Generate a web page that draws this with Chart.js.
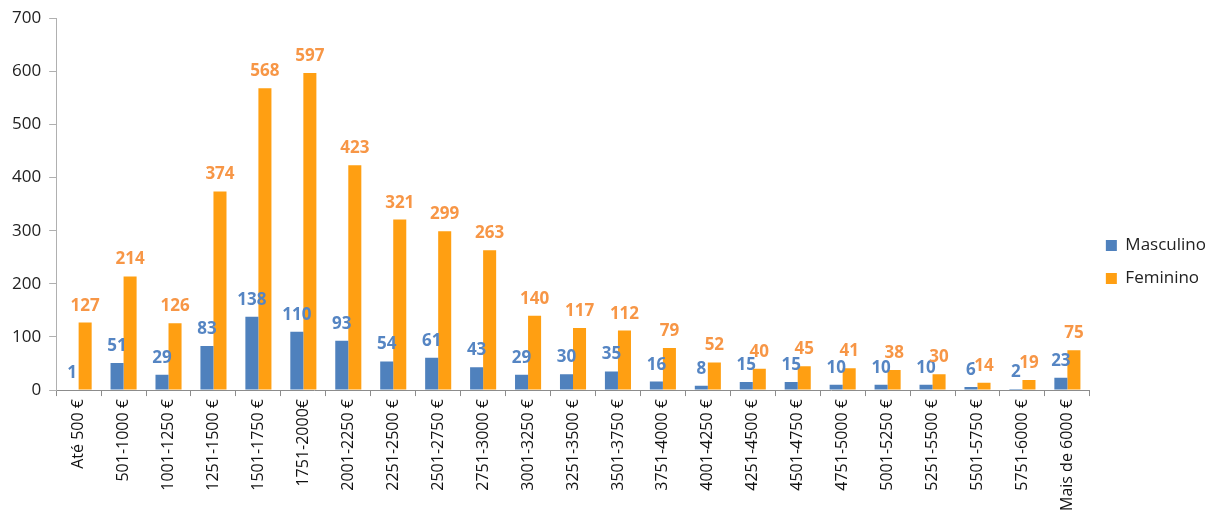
<!DOCTYPE html>
<html>
<head>
<meta charset="utf-8">
<script src="https://cdn.jsdelivr.net/npm/chart.js@4"></script>
<style>
  html, body { margin: 0; padding: 0; background: #fff; }
  #wrap { width: 1225px; height: 516px; }
</style>
</head>
<body>
<div id="wrap"><canvas id="myChart"></canvas></div>
<script>
var categories = ['Até 500 €', '501-1000 €', '1001-1250 €', '1251-1500 €', '1501-1750 €', '1751-2000€',
    '2001-2250 €', '2251-2500 €', '2501-2750 €', '2751-3000 €', '3001-3250 €', '3251-3500 €',
    '3501-3750 €', '3751-4000 €', '4001-4250 €', '4251-4500 €', '4501-4750 €', '4751-5000 €',
    '5001-5250 €', '5251-5500 €', '5501-5750 €', '5751-6000 €', 'Mais de 6000 €'];
var masculino = [1, 51, 29, 83, 138, 110, 93, 54, 61, 43, 29, 30, 35, 16, 8, 15, 15, 10, 10, 10, 6, 2, 23];
var feminino = [127, 214, 126, 374, 568, 597, 423, 321, 299, 263, 140, 117, 112, 79, 52, 40, 45, 41, 38, 30, 14, 19, 75];
var yTicks = [0, 100, 200, 300, 400, 500, 600, 700];

// value labels above bars, coloured like their series
var valueLabels = {
    id: 'valueLabels',
    afterDatasetsDraw: function (chart) {
        var ctx = chart.ctx;
        ctx.save();
        ctx.font = 'bold 17px "Open Sans"';
        ctx.textAlign = 'center';
        ctx.textBaseline = 'alphabetic';
        chart.data.datasets.forEach(function (ds, i) {
            var meta = chart.getDatasetMeta(i);
            ctx.fillStyle = ds.labelColor;
            meta.data.forEach(function (bar, j) {
                ctx.fillText(ds.data[j], bar.x, bar.y - 12);
            });
        });
        ctx.restore();
    }
};

var ctx = document.getElementById("myChart").getContext("2d");
var myChart = new Chart(ctx, {
    type: 'bar',
    data: {
        labels: categories,
        datasets: [{
            label: 'Masculino',
            data: masculino,
            backgroundColor: '#4F81BD',
            labelColor: '#5585C3',
            categoryPercentage: 0.58,
            barPercentage: 1
        }, {
            label: 'Feminino',
            data: feminino,
            backgroundColor: '#FF9F12',
            labelColor: '#F79646',
            categoryPercentage: 0.58,
            barPercentage: 1
        }]
    },
    plugins: [valueLabels],
    options: {
        responsive: true,
        maintainAspectRatio: false,
        animation: false,
        layout: { padding: { top: 10, left: 4, right: 9, bottom: 2 } },
        plugins: {
            legend: {
                position: 'right',
                labels: {
                    boxWidth: 11,
                    boxHeight: 11,
                    padding: 16,
                    color: '#222',
                    font: { family: 'Open Sans', size: 17 }
                }
            },
            tooltip: { enabled: false }
        },
        scales: {
            x: {
                grid: { display: true, drawOnChartArea: false, offset: true, tickLength: 6, color: '#8c8c8c' },
                border: { color: '#8c8c8c' },
                ticks: {
                    minRotation: 90,
                    maxRotation: 90,
                    autoSkip: false,
                    padding: 3,
                    color: '#111',
                    font: { family: 'Open Sans', size: 16 }
                }
            },
            y: {
                min: 0,
                max: 700,
                afterBuildTicks: function (axis) {
                    axis.ticks = yTicks.map(function (v) { return { value: v }; });
                },
                grid: { display: true, drawOnChartArea: false, tickLength: 7, color: '#b0b0b0' },
                border: { color: '#b0b0b0' },
                ticks: {
                    color: '#222',
                    padding: 8,
                    font: { family: 'Open Sans', size: 17 }
                }
            }
        }
    }
});
</script>
</body>
</html>
